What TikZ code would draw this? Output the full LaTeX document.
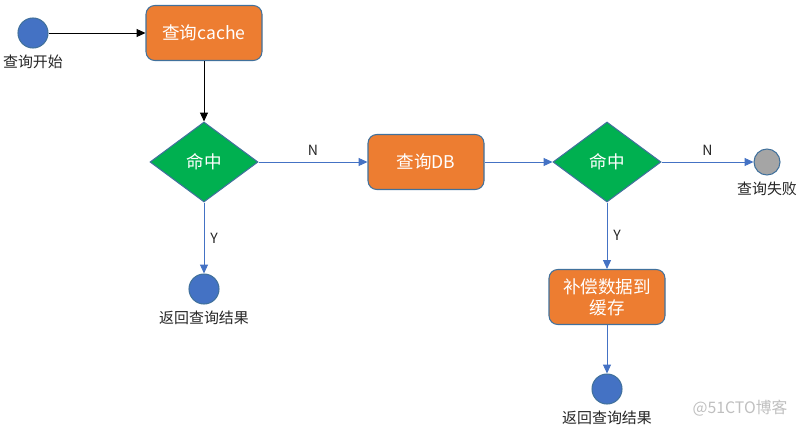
\documentclass[tikz,border=0pt]{standalone}
\usepackage{fontspec}
\setmainfont{Noto Sans CJK SC}
\usetikzlibrary{%
  positioning
 ,arrows.meta
 ,shapes.geometric
}
\definecolor{boxorange}{HTML}{ED7D31}
\definecolor{hitgreen}{HTML}{00B050}
\definecolor{dotblue}{HTML}{4472C4}
\definecolor{rimblue}{HTML}{41719C}
\definecolor{failgray}{HTML}{A5A5A5}
\tikzstyle{flow}=[node distance=2cm,on grid,auto,>={Triangle[length=5pt,width=4.5pt]}]
\tikzstyle{dot}=[circle,draw=rimblue,fill=dotblue,line width=0.6pt,minimum size=0.6cm,inner sep=0pt,label distance=1pt]
\tikzstyle{stepbox}=[rectangle,rounded corners=5pt,draw=rimblue,fill=boxorange,line width=0.6pt,minimum width=2.32cm,minimum height=1.1cm,text=white,font=\fontsize{10}{12}\selectfont,align=center]
\tikzstyle{hit}=[diamond,draw=rimblue,fill=hitgreen,line width=0.6pt,minimum width=2.16cm,minimum height=1.6cm,inner sep=0pt,text=white,font=\fontsize{10}{12}\selectfont]
\tikzstyle{lbl}=[font=\fontsize{8.5}{10}\selectfont,text=black!85]
\tikzstyle{yn}=[font=\fontsize{8}{10}\selectfont,text=black!85]
\tikzstyle{blueline}=[color=dotblue,line width=0.5pt]

\begin{document}
\begin{tikzpicture}[flow]
      \useasboundingbox (0,0) rectangle (16,-8.6);
      \node[dot,label={[lbl]below:查询开始}] (start) at (0.66,-0.66) {};
      \node[stepbox] (cache) [right=3.42cm of start] {查询cache};
      \node[hit] (hit1) [below=2.58cm of cache] {命中};
      \node[stepbox] (db) [right=4.44cm of hit1] {查询DB};
      \node[hit] (hit2) [right=3.62cm of db] {命中};
      \node[dot,fill=failgray,minimum size=0.52cm,label={[lbl]below:查询失败}] (fail) [right=3.2cm of hit2] {};
      \node[dot,label={[lbl]below:返回查询结果}] (end1) [below=2.54cm of hit1] {};
      \node[stepbox] (refill) [below=2.7cm of hit2] {补偿数据到\\缓存};
      \node[dot,label={[lbl]below:返回查询结果}] (end2) [below=1.84cm of refill] {};
      \node[font=\fontsize{9}{11}\selectfont,text=black!25] (mark) at (14.8,-8.16) {@51CTO博客};
      \path[->,line width=0.5pt]
        (start) edge (cache)
        (cache) edge (hit1);
      \path[->,blueline]
        (hit1) edge node[yn,above] {N} (db)
        (db) edge (hit2)
        (hit2) edge node[yn,above] {N} (fail)
        (hit1) edge node[yn,right] {Y} (end1)
        (hit2) edge node[yn,right] {Y} (refill)
        (refill) edge (end2);
    \end{tikzpicture}
\end{document}
